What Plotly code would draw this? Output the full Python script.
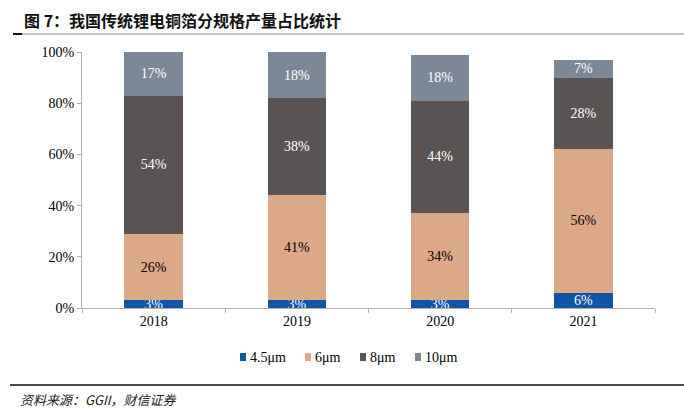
import plotly.graph_objects as go

years = ["2018", "2019", "2020", "2021"]
series_names = ["4.5μm", "6μm", "8μm", "10μm"]
v45 = [3, 3, 3, 6]
v6 = [26, 41, 34, 56]
v8 = [54, 38, 44, 28]
v10 = [17, 18, 18, 7]
colors = ["#1155A6", "#DBA985", "#5A5353", "#7C8898"]
text_colors = ["white", "black", "white", "white"]

W, H = 684, 414
L, R, T, B = 82, 29, 52, 106

px = lambda x: (x - L) / (W - L - R)
py = lambda y: (H - B - y) / (H - T - B)

fig = go.Figure()
for name, vals, c, tc in zip(series_names, [v45, v6, v8, v10], colors, text_colors):
    fig.add_trace(go.Bar(
        x=years, y=[v / 100 for v in vals], name=name,
        marker=dict(color=c, line=dict(width=0)),
        text=[f"{v}%" for v in vals], textposition="inside",
        insidetextanchor="middle", constraintext="none",
        textfont=dict(family="Liberation Serif", size=14, color=tc),
        width=0.41, showlegend=False, hoverinfo="skip",
    ))

fig.update_layout(
    barmode="stack", width=W, height=H,
    margin=dict(l=L, r=R, t=T, b=B),
    paper_bgcolor="white", plot_bgcolor="white",
    font=dict(family="Liberation Serif", size=14, color="black"),
    xaxis=dict(type="category", showline=True, linecolor="#B0B0B0", linewidth=1,
               ticks="outside", tickson="boundaries", ticklen=4, tickcolor="#B0B0B0",
               showgrid=False, tickfont=dict(size=14)),
    yaxis=dict(range=[0, 1.0], tickvals=[0, 0.2, 0.4, 0.6, 0.8, 1.0], tickformat=".0%",
               showline=True, linecolor="#B0B0B0", linewidth=1, ticks="outside",
               ticklen=4, tickcolor="#B0B0B0", showgrid=False, zeroline=False,
               tickfont=dict(size=14)),
)

# custom legend
leg_x = [240, 305, 360, 415]
leg_y = 357
for name, c, lx in zip(series_names, colors, leg_x):
    fig.add_shape(type="rect", xref="paper", yref="paper",
                  x0=px(lx), x1=px(lx + 6), y0=py(leg_y + 4), y1=py(leg_y - 4),
                  fillcolor=c, line=dict(width=0))
    fig.add_annotation(text=name, xref="paper", yref="paper", x=px(lx + 8), y=py(leg_y),
                       xanchor="left", yanchor="middle", showarrow=False,
                       font=dict(family="Liberation Serif", size=14, color="black"))

# title and decorative lines
fig.add_annotation(text="<b>图 7：我国传统锂电铜箔分规格产量占比统计</b>", xref="paper", yref="paper",
                   x=px(22), y=py(20), xanchor="left", yanchor="middle", showarrow=False,
                   font=dict(family="Noto Sans CJK SC", size=16, color="#111111"))
fig.add_shape(type="line", xref="paper", yref="paper", x0=px(22), x1=px(684), y0=py(34), y1=py(34),
              line=dict(color="#888888", width=1))
fig.add_shape(type="line", xref="paper", yref="paper", x0=px(13), x1=px(22), y0=py(34), y1=py(34),
              line=dict(color="#111111", width=2))
fig.add_shape(type="line", xref="paper", yref="paper", x0=px(10), x1=px(684), y0=py(385), y1=py(385),
              line=dict(color="#111111", width=1.5))
fig.add_annotation(text="<i>资料来源：GGII，财信证券</i>", xref="paper", yref="paper",
                   x=px(18), y=py(399), xanchor="left", yanchor="middle", showarrow=False,
                   font=dict(family="Noto Sans CJK SC", size=13, color="#222222"))

fig.write_html("out.html", config={"displayModeBar": False, "staticPlot": True},
               post_script="document.body.style.margin='0px';")
